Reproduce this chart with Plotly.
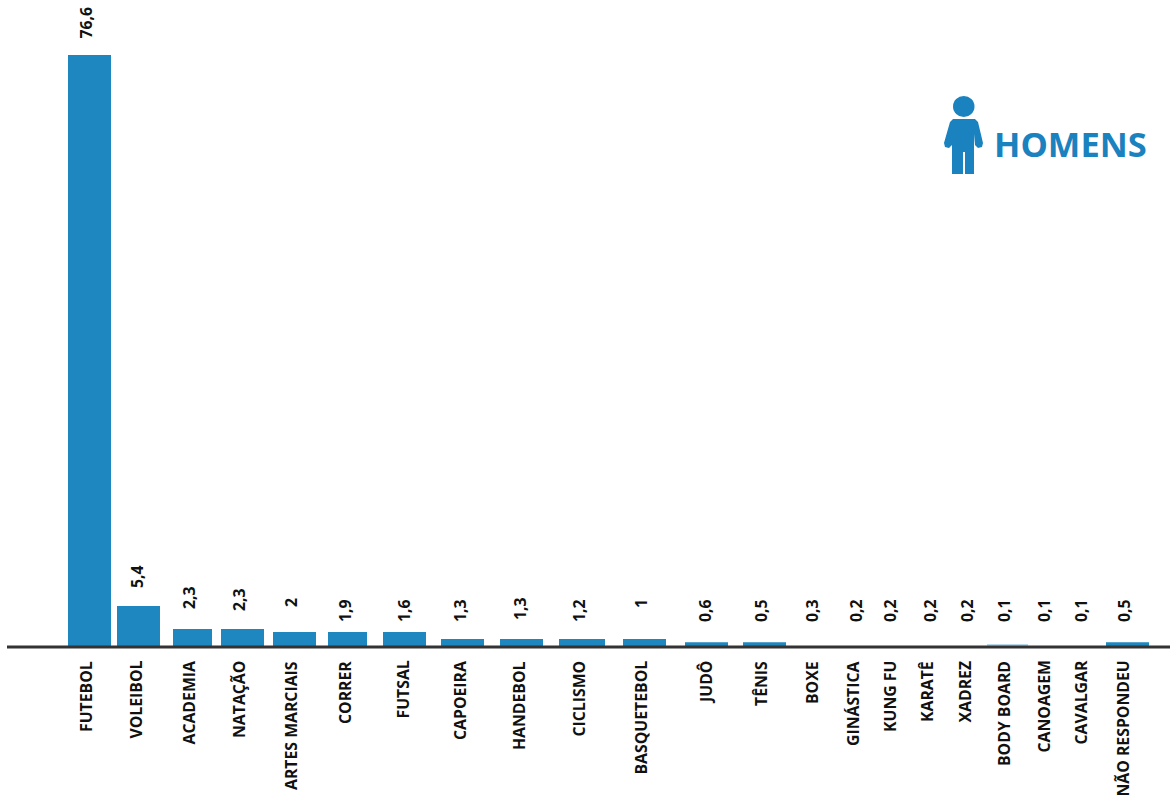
import plotly.graph_objects as go

W, H = 1170, 801
BASE_PX = 646

categories = ["FUTEBOL", "VOLEIBOL", "ACADEMIA", "NATAÇÃO", "ARTES MARCIAIS", "CORRER", "FUTSAL",
              "CAPOEIRA", "HANDEBOL", "CICLISMO", "BASQUETEBOL", "JUDÔ", "TÊNIS", "BOXE",
              "GINÁSTICA", "KUNG FU", "KARATÊ", "XADREZ", "BODY BOARD", "CANOAGEM", "CAVALGAR",
              "NÃO RESPONDEU"]
value_labels = ["76,6", "5,4", "2,3", "2,3", "2", "1,9", "1,6", "1,3", "1,3", "1,2", "1", "0,6",
                "0,5", "0,3", "0,2", "0,2", "0,2", "0,2", "0,1", "0,1", "0,1", "0,5"]
# bar heights as they are drawn in the picture (the picture rounds small bars)
drawn_heights = [76.6, 5.2, 2.2, 2.2, 1.8, 1.8, 1.8, 0.9, 0.9, 0.9, 0.9, 0.5, 0.5, 0.0, 0.0, 0.0,
                 0.0, 0.0, 0.25, 0.0, 0.0, 0.5]
# horizontal layout of the source, in picture pixels
bar_centers = [89.5, 138.5, 192.5, 242.5, 294.5, 347.5, 404.5, 462.5, 521.5, 582, 644.5, 706.5,
               764.5, 812, 856, 890, 930, 967, 1007.5, 1044, 1081, 1127.5]
bar_widths = [43, 43, 39, 43, 43, 39, 43, 43, 43, 46, 43, 43, 43, 40, 40, 36, 36, 36, 41, 40, 36, 43]
label_centers = [85.5, 135.5, 188.5, 238.5, 290.5, 344.5, 402.5, 459.5, 518.5, 578.5, 640.5, 705.5, 760.5,
                 811.5, 852.5, 889.5, 926.5, 964.5, 1003.5, 1043.5, 1080.5, 1122.5]
value_centers = [85.5, 136.5, 188.5, 238.5, 290.5, 344.5, 403.5, 459.5, 519.5, 578.5, 640.5, 704.5, 760.5,
                 811.5, 855.5, 889.5, 929.5, 966.5, 1003.5, 1043.5, 1080.5, 1123.5]
value_tops = [7, 565, 586, 588, 598, 599, 599, 599, 597, 599, 599, 599, 599, 599, 599, 599, 599,
              599, 599, 599, 599, 599]

BLUE = "#1f87bf"
ICON = "#1a82bf"
bar_colors = [BLUE] * len(categories)
bar_colors[categories.index("BODY BOARD")] = "#b9d8ea"

PX_PER_UNIT = 7.715

fig = go.Figure(go.Bar(x=bar_centers, y=drawn_heights, width=bar_widths,
                       marker=dict(color=bar_colors, line_width=0), hoverinfo="skip"))


def px(x):
    return x / W


def py(y):
    return 1 - y / H


annotations = []
for name, x in zip(categories, label_centers):
    annotations.append(dict(text=name, xref="paper", yref="paper", x=px(x), y=py(661), textangle=-90,
                            xanchor="center", yanchor="top", showarrow=False, borderpad=0, borderwidth=0,
                            font=dict(family="Open Sans", size=15.8, color="#111111", weight=700)))
for label, x, top in zip(value_labels, value_centers, value_tops):
    annotations.append(dict(text=label, xref="paper", yref="paper", x=px(x), y=py(top), textangle=-90,
                            xanchor="center", yanchor="top", showarrow=False, borderpad=0, borderwidth=0,
                            font=dict(family="Open Sans", size=15.8, color="#111111", weight=700)))
annotations.append(dict(text="HOMENS", xref="paper", yref="paper", x=px(1147.5), y=py(143), xanchor="right",
                        yanchor="middle", showarrow=False, borderpad=0,
                        font=dict(family="Open Sans", size=34.5, color=ICON, weight=700)))

# person icon and baseline
body = [(953, 119), (975, 119), (978, 122), (983, 143), (982, 147), (978, 148), (975, 145), (974, 134),
        (974, 174), (965, 174), (965, 152), (963, 152), (963, 174), (952, 174), (952, 134), (952, 145),
        (949, 148), (945, 147), (944, 143), (950, 122)]
path = "M " + " L ".join(f"{px(a):.5f},{py(b):.5f}" for a, b in body) + " Z"
shapes = [
    dict(type="circle", xref="paper", yref="paper", x0=px(953), x1=px(974.5), y0=py(117), y1=py(96),
         fillcolor=ICON, line_width=0),
    dict(type="path", xref="paper", yref="paper", path=path, fillcolor=ICON, line_width=0),
    dict(type="rect", xref="paper", yref="paper", x0=px(7), x1=1, y0=py(648.5), y1=py(645.5),
         fillcolor="#333333", line_width=0),
]

fig.update_layout(
    width=W, height=H, margin=dict(l=0, r=0, t=0, b=0), paper_bgcolor="white", plot_bgcolor="white",
    showlegend=False, annotations=annotations, shapes=shapes,
    xaxis=dict(range=[0, W], domain=[0, 1], visible=False),
    yaxis=dict(range=[0, BASE_PX / PX_PER_UNIT], domain=[1 - BASE_PX / H, 1], visible=False),
)
fig.write_html("out.html", config={"displayModeBar": False},
               post_script="document.body.style.margin='0';document.body.style.overflow='hidden';")
